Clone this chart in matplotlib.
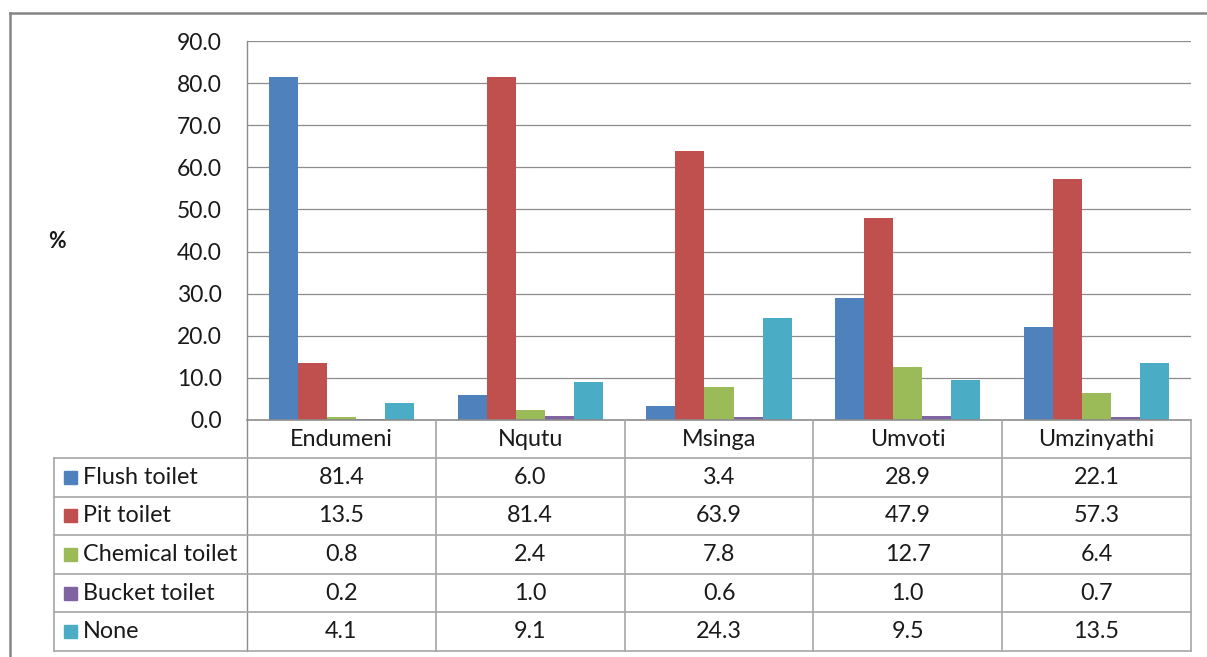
import matplotlib
matplotlib.use("Agg")
import matplotlib.pyplot as plt
from matplotlib.lines import Line2D
from matplotlib.transforms import blended_transform_factory

plt.rcParams["font.family"] = ["Lato", "DejaVu Sans"]

# Sanitation type by local municipality (%)
municipalities = ["Endumeni", "Nqutu", "Msinga", "Umvoti", "Umzinyathi"]
toilet_types = ["Flush toilet", "Pit toilet", "Chemical toilet", "Bucket toilet", "None"]
flush = [81.4, 6.0, 3.4, 28.9, 22.1]
pit = [13.5, 81.4, 63.9, 47.9, 57.3]
chemical = [0.8, 2.4, 7.8, 12.7, 6.4]
bucket = [0.2, 1.0, 0.6, 1.0, 0.7]
none = [4.1, 9.1, 24.3, 9.5, 13.5]
series = [flush, pit, chemical, bucket, none]
colors = ["#4F81BD", "#C0504D", "#9BBB59", "#8064A2", "#4BACC6"]
y_ticks = [0, 10, 20, 30, 40, 50, 60, 70, 80, 90]

W, H = 1207, 657
fig = plt.figure(figsize=(W / 100, H / 100), dpi=100)
TXT = "#1a1a1a"
FS = 16.8


def fx(px):
    return px / W


def fy(py):
    return 1 - py / H


# plot area geometry (pixels)
left, right, top, base = 247, 1191, 41, 420
ax = fig.add_axes([fx(left), fy(base), fx(right - left), (base - top) / H])
ax.set_xlim(-0.5, len(municipalities) - 0.5)
ax.set_ylim(0, 90)

grid_c = "#8C8C8C"
line_c = "#A6A6A6"
for t in y_ticks[1:]:
    ax.axhline(t, color=grid_c, lw=0.9, zorder=1)

n = len(series)
bw = 1 / 6.5
for j, (vals, col) in enumerate(zip(series, colors)):
    xs = [i + (j - (n - 1) / 2) * bw for i in range(len(municipalities))]
    ax.bar(xs, vals, width=bw, color=col, zorder=2, linewidth=0)

for s in ["top", "right", "bottom", "left"]:
    ax.spines[s].set_visible(False)
ax.set_xticks([])
ax.set_yticks(y_ticks)
ax.set_yticklabels([f"{t:.1f}" for t in y_ticks], fontsize=16.5, color=TXT)
ax.tick_params(axis="y", length=0, pad=18)

fig.text(fx(57), fy(242), "%", fontsize=15.5, fontweight="bold", ha="center", va="center",
         color=TXT)


def hline(x0, x1, y, c=line_c, lw=1.2):
    fig.add_artist(Line2D([fx(x0), fx(x1)], [fy(y), fy(y)], color=c, lw=lw))


def vline(x, y0, y1, c=line_c, lw=1.2):
    fig.add_artist(Line2D([fx(x), fx(x)], [fy(y0), fy(y1)], color=c, lw=lw))


# outer chart frame
hline(10, W, 13, c="#858585", lw=1.8)
vline(10, 13, H, c="#858585", lw=1.8)

# data table grid
col_w = (right - left) / len(municipalities)
row_tops = [458 + k * 38.6 for k in range(len(toilet_types) + 1)]
tbl_left = 54
vline(left, top, row_tops[-1], c=grid_c, lw=1.0)
hline(left, right, base, c=grid_c, lw=1.2)
for yv in row_tops:
    hline(tbl_left, right, yv)
vline(tbl_left, row_tops[0], row_tops[-1])
for i in range(1, len(municipalities) + 1):
    vline(left + i * col_w, base, row_tops[-1])

tr = blended_transform_factory(ax.transData, fig.transFigure)
for i, name in enumerate(municipalities):
    ax.text(i, fy((base + row_tops[0]) / 2), name, transform=tr, ha="center", va="center",
            fontsize=FS, color=TXT)

for r, (label, vals, col) in enumerate(zip(toilet_types, series, colors)):
    yc = (row_tops[r] + row_tops[r + 1]) / 2
    fig.patches.append(plt.Rectangle((fx(64), fy(yc + 6.5)), 13 / W, 13 / H,
                                     transform=fig.transFigure, color=col))
    fig.text(fx(83), fy(yc), label, ha="left", va="center", fontsize=FS, color=TXT)
    for i, v in enumerate(vals):
        ax.text(i, fy(yc), f"{v:.1f}", transform=tr, ha="center", va="center",
                fontsize=FS, color=TXT)

fig.savefig("out.png", dpi=100)
